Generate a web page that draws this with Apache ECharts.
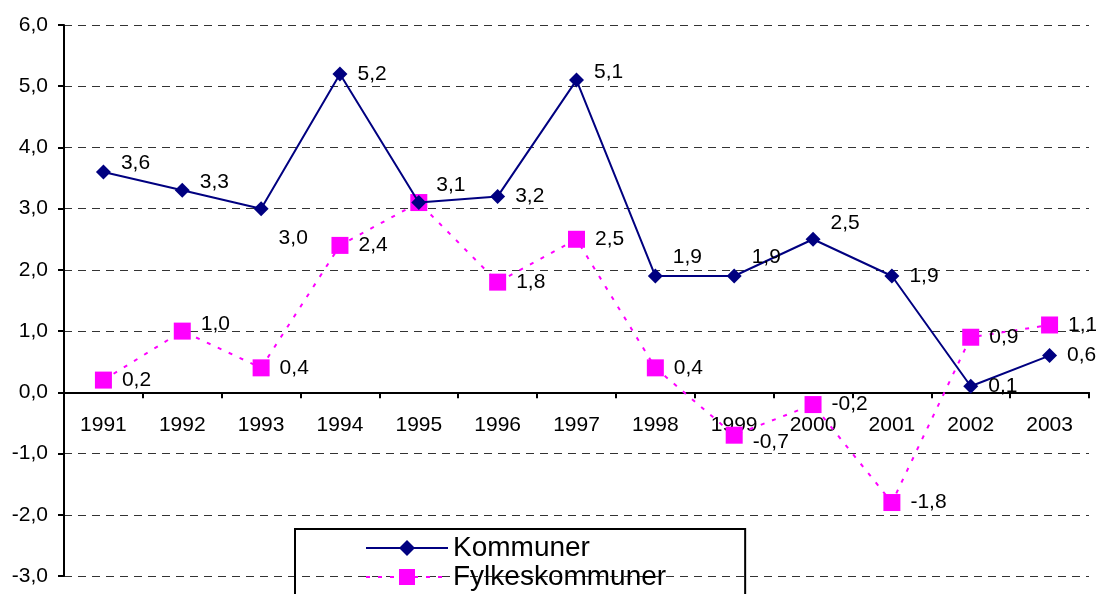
<!DOCTYPE html>
<html>
<head>
<meta charset="utf-8">
<script src="https://cdn.jsdelivr.net/npm/echarts@6/dist/echarts.min.js"></script>
<style>
  html, body { margin: 0; padding: 0; background: #fff; }
  #chart { width: 1096px; height: 594px; }
</style>
</head>
<body>
<div id="chart"></div>
<script>
// data
var years = ["1991", "1992", "1993", "1994", "1995", "1996", "1997", "1998", "1999", "2000", "2001", "2002", "2003"];
var kommuner = [3.6, 3.3, 3.0, 5.2, 3.1, 3.2, 5.1, 1.9, 1.9, 2.5, 1.9, 0.1, 0.6];
var fylkeskommuner = [0.2, 1.0, 0.4, 2.4, 3.1, 1.8, 2.5, 0.4, -0.7, -0.2, -1.8, 0.9, 1.1];
var yMin = -3, yMax = 6, yStep = 1;

var font = "Liberation Sans, Arial, sans-serif";

function fmt(v) {
  return v.toFixed(1).replace(".", ",");
}

// nudges so the labels sit where Excel put them
var komOffsets = [-9, -8, 30, 0, -17, 0, -8, -19, -19, -16, 0, 0, 0];
var fylOffsets = [0, -7, 0, 0, -17, 0, 0, 0, 7, 0, 0, 0, 0];

function withLabels(values, offsets, hideIdx) {
  return values.map(function (v, i) {
    return { value: v, label: { show: i !== hideIdx, offset: [0, offsets[i]] } };
  });
}

var myChart = echarts.init(document.getElementById("chart"));

var gridTop = 25, gridBottom = 18;
var plotH = 594 - gridTop - gridBottom;
// move the category axis up to the zero line
var zeroFromBottom = plotH * (0 - yMin) / (yMax - yMin);

var labelStyle = {
  show: true,
  position: "right",
  distance: 10,
  color: "#000",
  fontFamily: font,
  fontSize: 21,
  formatter: function (p) { return fmt(p.value); }
};

var option = {
  animation: false,
  grid: { left: 64, right: 7, top: gridTop, bottom: gridBottom, containLabel: false, outerBoundsMode: "none" },
  legend: {
    orient: "vertical",
    left: 295,
    top: 529,
    height: 200,
    padding: [5, 79, 40, 70],
    borderColor: "#000",
    borderWidth: 2,
    itemWidth: 82,
    itemHeight: 20,
    itemGap: 1,
    textStyle: { color: "#000", fontFamily: font, fontSize: 28, lineHeight: 28 },
    data: ["Kommuner", "Fylkeskommuner"]
  },
  xAxis: {
    type: "category",
    data: years,
    boundaryGap: true,
    position: "bottom",
    offset: -zeroFromBottom,
    axisLine: { onZero: false, lineStyle: { color: "#000", width: 2 } },
    axisTick: { show: true, length: 6, inside: false, lineStyle: { color: "#000", width: 2 } },
    axisLabel: { color: "#000", fontFamily: font, fontSize: 21, margin: 22, interval: 0 },
    splitLine: { show: false }
  },
  yAxis: {
    type: "value",
    min: yMin,
    max: yMax,
    interval: yStep,
    axisLine: { show: true, lineStyle: { color: "#000", width: 2 } },
    axisTick: { show: true, length: 6, lineStyle: { color: "#000", width: 2 } },
    axisLabel: { color: "#000", fontFamily: font, fontSize: 21, margin: 16, formatter: fmt },
    splitLine: { show: true, lineStyle: { color: "#333", width: 1, type: [8, 6] } }
  },
  series: [
    {
      name: "Kommuner",
      type: "line",
      data: withLabels(kommuner, komOffsets, -1),
      symbol: "diamond",
      symbolSize: 15,
      color: "#000080",
      lineStyle: { color: "#000080", width: 2 },
      itemStyle: { color: "#000080" },
      label: labelStyle,
      z: 3
    },
    {
      name: "Fylkeskommuner",
      type: "line",
      data: withLabels(fylkeskommuner, fylOffsets, 4),
      symbol: "rect",
      symbolSize: 17,
      color: "#FF00FF",
      lineStyle: { color: "#FF00FF", width: 2, type: [4, 8] },
      itemStyle: { color: "#FF00FF" },
      label: labelStyle,
      z: 2
    }
  ]
};

myChart.setOption(option);
</script>
</body>
</html>
